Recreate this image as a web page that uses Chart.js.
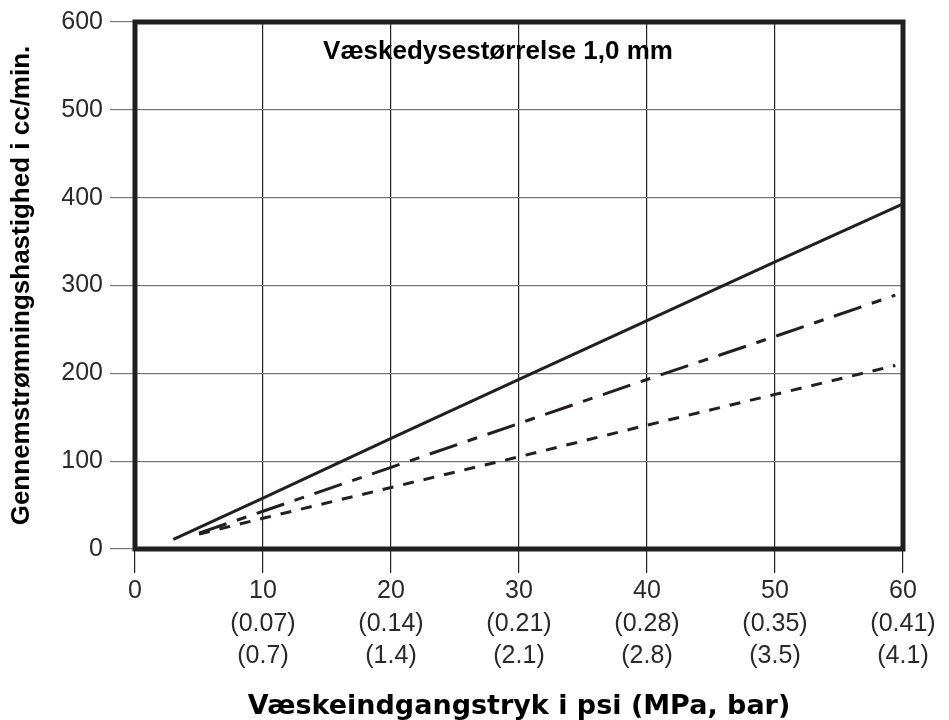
<!DOCTYPE html>
<html>
<head>
<meta charset="utf-8">
<script src="https://cdn.jsdelivr.net/npm/chart.js@4/dist/chart.umd.min.js"></script>
<style>
  html, body { margin: 0; padding: 0; background: #fff; }
  #wrap { width: 949px; height: 720px; }
</style>
</head>
<body>
<div id="wrap"><canvas id="c" width="949" height="720"></canvas></div>
<script>
// ---- data ----
const chartTitle = 'Væskedysestørrelse 1,0 mm';
const xTitle = 'Væskeindgangstryk i psi (MPa, bar)';
const yTitle = 'Gennemstrømningshastighed i cc/min.';

const psiTicks = [0, 10, 20, 30, 40, 50, 60];
const mpaLabels = ['', '(0.07)', '(0.14)', '(0.21)', '(0.28)', '(0.35)', '(0.41)'];
const barLabels = ['', '(0.7)', '(1.4)', '(2.1)', '(2.8)', '(3.5)', '(4.1)'];

const solidX = [3, 10, 20, 30, 40, 50, 60];
const solidY = [11, 58, 126, 193, 260, 327, 393];

const longDashX = [5, 10, 20, 30, 40, 50, 59.4];
const longDashY = [18, 43, 93, 143, 193, 242, 289];

const shortDashX = [5, 10, 20, 30, 40, 50, 59.4];
const shortDashY = [17, 35, 70, 105, 141, 176, 209];

const toPts = (xs, ys) => xs.map((x, i) => ({ x: x, y: ys[i] }));

const WIDE = '"DejaVu Sans", Verdana, sans-serif';
const NARROW = '"Liberation Sans", Arial, Helvetica, sans-serif';
const INK = '#231f20';

const frame = {
  id: 'frame',
  afterDatasetsDraw(chart) {
    const { ctx, chartArea: a } = chart;
    ctx.save();
    ctx.strokeStyle = INK;
    ctx.lineWidth = 5;
    ctx.strokeRect(a.left, a.top, a.right - a.left, a.bottom - a.top);
    ctx.fillStyle = '#000';
    ctx.font = 'bold 26px ' + NARROW;
    ctx.textAlign = 'center';
    ctx.textBaseline = 'middle';
    ctx.fillText(chartTitle, 498, 52);
    ctx.restore();
  }
};

new Chart(document.getElementById('c'), {
  type: 'line',
  data: {
    datasets: [
      { data: toPts(solidX, solidY), borderColor: INK, borderWidth: 3, pointRadius: 0, tension: 0, fill: false },
      { data: toPts(longDashX, longDashY), borderColor: INK, borderWidth: 3, borderDash: [29, 11, 10, 11], pointRadius: 0, tension: 0, fill: false },
      { data: toPts(shortDashX, shortDashY), borderColor: INK, borderWidth: 3, borderDash: [11, 10], pointRadius: 0, tension: 0, fill: false }
    ]
  },
  options: {
    responsive: false,
    animation: false,
    layout: { padding: { top: 21, right: 46, left: 0, bottom: 0 } },
    plugins: { legend: { display: false }, tooltip: { enabled: false } },
    scales: {
      x: {
        type: 'linear',
        min: 0, max: 60,
        afterBuildTicks(scale) { scale.ticks = psiTicks.map(v => ({ value: v })); },
        afterFit(scale) { scale.height = 171; },
        border: { display: false },
        grid: { color: '#222', lineWidth: 1.2, tickLength: 24, tickColor: '#222', tickWidth: 1.2 },
        ticks: {
          color: '#2a2a2a',
          padding: 2,
          maxRotation: 0,
          autoSkip: false,
          font: { family: NARROW, size: 25, lineHeight: 1.3 },
          callback(v) {
            const i = psiTicks.indexOf(v);
            if (i <= 0) return String(v);
            return [String(v), mpaLabels[i], barLabels[i]];
          }
        },
        title: {
          display: true, text: xTitle, color: '#000',
          font: { family: WIDE, size: 27, weight: 'bold', lineHeight: 1 },
          padding: { top: 0, bottom: 0 }
        }
      },
      y: {
        min: 0, max: 600,
        ticks: { stepSize: 100, color: '#2a2a2a', padding: 7, font: { family: NARROW, size: 25 } },
        afterFit(scale) { scale.width = 135; },
        border: { display: false },
        grid: { color: '#777', lineWidth: 1.2, tickLength: 25, tickColor: '#777', tickWidth: 1.2 },
        title: {
          display: true, text: yTitle, color: '#000',
          font: { family: NARROW, size: 26, weight: 'bold', lineHeight: 1.2 },
          padding: { top: 6, bottom: 0 }
        }
      }
    }
  },
  plugins: [frame]
});
</script>
</body>
</html>
